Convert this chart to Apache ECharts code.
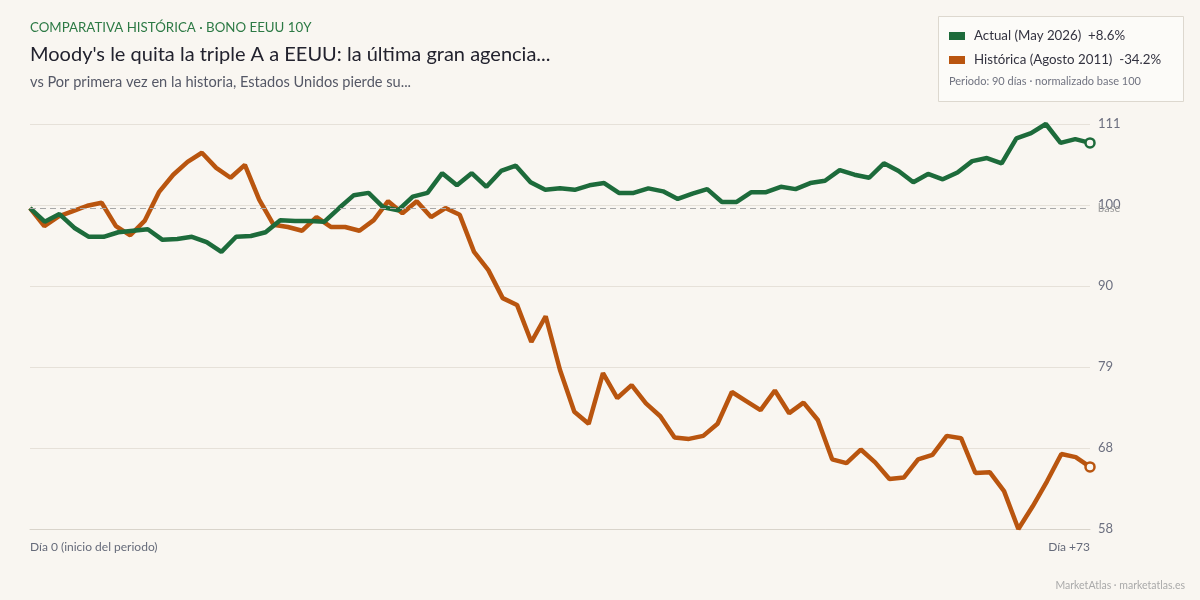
<!DOCTYPE html>
<html>
<head>
<meta charset="utf-8">
<script src="https://cdn.jsdelivr.net/npm/echarts@6/dist/echarts.min.js"></script>
<style>
  html, body { margin: 0; background: #f9f6f1; }
  #chart { width: 1200px; height: 600px; }
</style>
</head>
<body>
<div id="chart"></div>
<script>
// series
const seriesNames = ["Actual (May 2026)", "Histórica (Agosto 2011)"];
const seriesChange = ["+8.6%", "-34.2%"];
const actualValues = [
  100.0, 98.2, 99.2, 97.4, 96.2, 96.2, 96.8, 97.0, 97.2, 95.8,
  95.9, 96.2, 95.5, 94.2, 96.2, 96.3, 96.8, 98.4, 98.3, 98.3,
  98.2, 100.0, 101.7, 102.0, 100.1, 99.7, 101.5, 102.0, 104.6, 103.0,
  104.6, 102.8, 104.9, 105.6, 103.4, 102.4, 102.6, 102.4, 103.0, 103.3,
  102.0, 102.0, 102.6, 102.2, 101.2, 101.9, 102.5, 100.8, 100.8, 102.1,
  102.1, 102.8, 102.5, 103.3, 103.6, 105.0, 104.4, 104.0, 105.9, 104.9,
  103.4, 104.5, 103.8, 104.7, 106.2, 106.6, 105.9, 109.2, 109.9, 111.1,
  108.6, 109.1, 108.6
];
const historicValues = [
  100.0, 97.6, 98.9, 99.6, 100.3, 100.7, 97.6, 96.4, 98.3, 102.1,
  104.4, 106.1, 107.3, 105.3, 104.0, 105.7, 101.1, 97.8, 97.5, 97.0,
  98.8, 97.5, 97.5, 97.0, 98.4, 100.9, 99.3, 100.9, 98.8, 100.0,
  99.1, 94.2, 91.8, 88.1, 87.2, 82.3, 85.7, 78.6, 73.1, 71.5,
  78.2, 74.9, 76.6, 74.2, 72.5, 69.7, 69.5, 69.9, 71.5, 75.7,
  74.5, 73.3, 75.9, 72.9, 74.3, 72.0, 66.8, 66.3, 68.1, 66.4,
  64.2, 64.4, 66.8, 67.4, 69.9, 69.6, 65.0, 65.1, 62.6, 57.6,
  60.6, 63.9, 67.5, 67.1, 65.8
];
// axes
const xLabels = ["Día 0 (inicio del periodo)", "Día +73"];
const yMin = 57.6;
const yMax = 111.1;
const yStep = 10.7;
const baseValue = 100;

const GREEN = "#1d6b3b";
const ORANGE = "#b9550f";
const BG = "#f9f6f1";

// both series are stretched over the same period (0 -> 1)
const toPoints = (arr) => arr.map((v, i) => [i / (arr.length - 1), v]);

// only the last point gets a marker
const lastMarker = (arr) => (val, p) => (p.dataIndex === arr.length - 1 ? 9 : 0);

const chart = echarts.init(document.getElementById("chart"));
chart.setOption({
  backgroundColor: BG,
  animation: false,
  textStyle: { fontFamily: "Lato" },
  title: [
    {
      text: "COMPARATIVA HISTÓRICA · BONO EEUU 10Y",
      left: 30, top: 21, padding: 0,
      textStyle: { fontFamily: "Lato", fontSize: 13.3, fontWeight: "normal", color: "#2d7a45" },
    },
    {
      text: "Moody's le quita la triple A a EEUU: la última gran agencia...",
      left: 30, top: 45, padding: 0,
      textStyle: { fontFamily: "Lato", fontSize: 20, fontWeight: "normal", color: "#22222e" },
    },
    {
      text: "vs Por primera vez en la historia, Estados Unidos pierde su...",
      left: 30, top: 75, padding: 0,
      textStyle: { fontFamily: "Lato", fontSize: 14.6, fontWeight: "normal", color: "#555866" },
    },
  ],
  graphic: [
    {
      type: "rect",
      shape: { x: 938.5, y: 16.5, width: 245, height: 85 },
      style: { fill: "#fcfbf8", stroke: "#ddd8cf", lineWidth: 1 },
      z: 0,
    },
    {
      type: "text",
      left: 949, top: 76,
      style: { text: "Periodo: 90 días · normalizado base 100", fill: "#707380", font: "11px Lato" },
    },
    {
      type: "text",
      right: 15, top: 580,
      style: { text: "MarketAtlas · marketatlas.es", fill: "#aaaaaa", font: "10.5px Lato" },
    },
  ],
  legend: {
    orient: "vertical",
    left: 949, top: 28, padding: 0,
    itemWidth: 16, itemHeight: 8, itemGap: 8,
    icon: "rect",
    data: [
      { name: seriesNames[0], itemStyle: { color: GREEN, borderWidth: 0 } },
      { name: seriesNames[1], itemStyle: { color: ORANGE, borderWidth: 0 } },
    ],
    formatter: (name) => name + "  " + seriesChange[seriesNames.indexOf(name)],
    textStyle: { fontFamily: "Lato", fontSize: 13.3, color: "#333340", lineHeight: 16, padding: [0, 0, 0, 4] },
    z: 5,
  },
  grid: { left: 30, right: 110, top: 124, bottom: 71 },
  xAxis: {
    type: "value",
    min: 0, max: 1,
    axisLine: { show: true, lineStyle: { color: "#d9d4cb" } },
    axisTick: { show: false },
    splitLine: { show: false },
    axisLabel: {
      customValues: [0, 1],
      formatter: (v) => (v === 0 ? xLabels[0] : xLabels[1]),
      alignMinLabel: "left",
      alignMaxLabel: "right",
      color: "#666b7a",
      fontSize: 12,
      margin: 12,
    },
  },
  yAxis: {
    type: "value",
    position: "right",
    min: yMin, max: yMax, interval: yStep,
    axisLine: { show: false },
    axisTick: { show: false },
    splitLine: { lineStyle: { color: "#e6e1d9" } },
    axisLabel: {
      formatter: (v) => Math.round(v),
      color: "#6d7080",
      fontSize: 13,
      margin: 8,
    },
  },
  series: [
    {
      name: seriesNames[1],
      type: "line",
      data: toPoints(historicValues),
      color: ORANGE,
      lineStyle: { width: 4.5, color: ORANGE },
      symbol: "circle",
      showSymbol: true,
      symbolSize: lastMarker(historicValues),
      itemStyle: { color: BG, borderColor: ORANGE, borderWidth: 2.5 },
      z: 2,
      silent: true,
    },
    {
      name: seriesNames[0],
      type: "line",
      data: toPoints(actualValues),
      color: GREEN,
      lineStyle: { width: 4.5, color: GREEN },
      symbol: "circle",
      showSymbol: true,
      symbolSize: lastMarker(actualValues),
      itemStyle: { color: BG, borderColor: GREEN, borderWidth: 2.5 },
      z: 3,
      silent: true,
      markLine: {
        silent: true,
        symbol: "none",
        data: [{ yAxis: baseValue }],
        lineStyle: { type: [6, 4], color: "#a8a8a8", width: 1 },
        label: { formatter: "base", position: "end", color: "#9a9a9a", fontSize: 11, distance: 8 },
      },
    },
  ],
});
</script>
</body>
</html>
